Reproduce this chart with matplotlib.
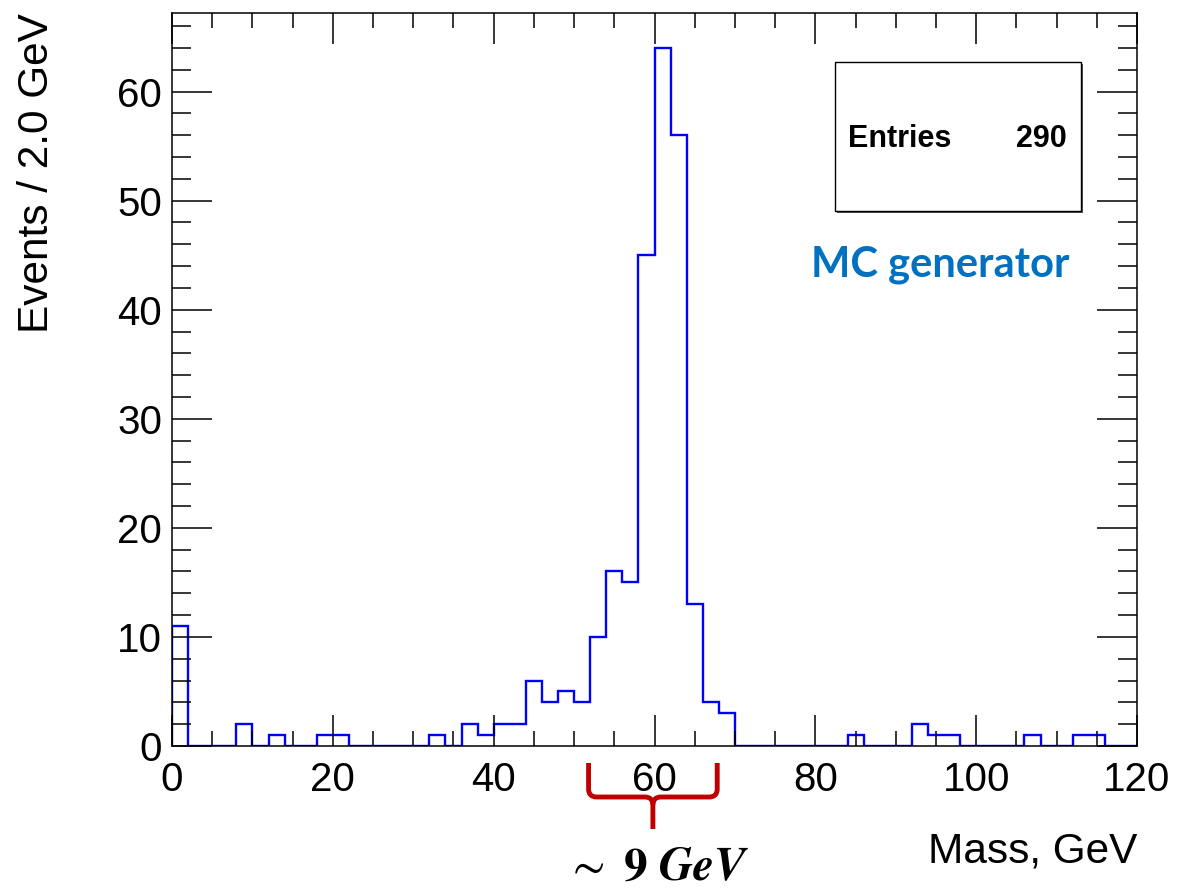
import numpy as np
import matplotlib
matplotlib.use("Agg")
import matplotlib.pyplot as plt
from matplotlib.path import Path
from matplotlib.patches import PathPatch, Rectangle
from matplotlib.ticker import MultipleLocator
import matplotlib.transforms as mtransforms

# Histogram of reconstructed mass, 2 GeV bins from 0 to 120 GeV
bin_edges = np.arange(0, 122, 2)
counts = [11, 0, 0, 0, 2, 0, 1, 0, 0, 1,
          1, 0, 0, 0, 0, 0, 1, 0, 2, 1,
          2, 2, 6, 4, 5, 4, 10, 16, 15, 45,
          64, 56, 13, 4, 3, 0, 0, 0, 0, 0,
          0, 0, 1, 0, 0, 0, 2, 1, 1, 0,
          0, 0, 0, 1, 0, 0, 1, 1, 0, 0]
n_entries = 290
x_label = "Mass, GeV"
y_label = "Events / 2.0 GeV"
generator_label = "MC generator"
width_label = r"$\sim\ \mathbf{9}\ \mathbfit{GeV}$"
width_range = (51.8, 67.8)

plt.rcParams['font.family'] = ['Liberation Sans', 'DejaVu Sans']
plt.rcParams['mathtext.fontset'] = 'stix'

W, H = 1181, 893
fig = plt.figure(figsize=(W / 100, H / 100), dpi=100)
ax = fig.add_axes([172/W, 1-746/H, (1137-172)/W, (746-13)/H])

ax.stairs(counts, bin_edges, color='#0000ff', linewidth=1.7)

ax.set_xlim(0, 120)
ax.set_ylim(0, 67.2)
ax.xaxis.set_major_locator(MultipleLocator(20))
ax.xaxis.set_minor_locator(MultipleLocator(5))
ax.yaxis.set_major_locator(MultipleLocator(10))
ax.yaxis.set_minor_locator(MultipleLocator(2))
ax.tick_params(which='both', direction='in', top=True, right=True, width=1.1, color='black')
ax.tick_params(which='major', length=22)
ax.tick_params(which='minor', length=11)
ax.tick_params(axis='y', which='major', length=29, labelsize=29, pad=7)
ax.tick_params(axis='y', which='minor', length=14)
ax.tick_params(axis='x', which='major', labelsize=29, pad=11)
for s in ax.spines.values():
    s.set_linewidth(1.1)

# Axis titles placed ROOT-style at the far ends of the axes
fig.text(1137/W, 1-863/H, x_label, fontsize=30.5, ha='right', va='baseline')
fig.text(37/W, 1-13/H, y_label, fontsize=30.5, rotation=90, ha='center', va='top')

# Statistics box with drop shadow
box_x0, box_y0 = 835/W, 1-211/H
box_w, box_h = (1081-835)/W, (211-62)/H
fig.patches.append(Rectangle((box_x0 + 2/W, box_y0 - 2/H), box_w, box_h,
                             transform=fig.transFigure, facecolor='#555555',
                             edgecolor='none', zorder=5))
fig.patches.append(Rectangle((box_x0, box_y0), box_w, box_h,
                             transform=fig.transFigure, facecolor='white',
                             edgecolor='black', linewidth=1.0, zorder=6))
fig.text(848/W, 1-147/H, "Entries", fontsize=22, fontweight='bold',
         ha='left', va='baseline', zorder=7)
fig.text(1067/W, 1-147/H, f"{n_entries}", fontsize=22, fontweight='bold',
         ha='right', va='baseline', zorder=7)

fig.text(940/W, 1-277/H, generator_label, fontsize=30, fontweight='bold',
         family=['Lato', 'DejaVu Sans'], color='#0070c0', ha='center', va='baseline')

# Brace marking the peak width below the x axis
trans = mtransforms.blended_transform_factory(ax.transData, fig.transFigure)
x0, x1 = width_range
xm = 0.5 * (x0 + x1)
ytop = 1 - 763/H
ybar = 1 - 797/H
ystem = 1 - 829/H
r = 1.0
dy = 8/H
verts = [(x0, ytop), (x0, ybar + dy), (x0, ybar), (x0 + r, ybar),
         (xm - r, ybar), (xm, ybar), (xm, ybar - dy), (xm, ystem)]
codes = [Path.MOVETO, Path.LINETO, Path.CURVE3, Path.CURVE3,
         Path.LINETO, Path.CURVE3, Path.CURVE3, Path.LINETO]
verts2 = [(x1, ytop), (x1, ybar + dy), (x1, ybar), (x1 - r, ybar),
          (xm + r, ybar), (xm, ybar), (xm, ybar - dy)]
codes2 = [Path.MOVETO, Path.LINETO, Path.CURVE3, Path.CURVE3,
          Path.LINETO, Path.CURVE3, Path.CURVE3]
for v, c in ((verts, codes), (verts2, codes2)):
    fig.patches.append(PathPatch(Path(v, c), transform=trans, facecolor='none',
                                 edgecolor='#c00000', linewidth=3.5,
                                 capstyle='butt', joinstyle='round'))

fig.text(657.5/W, 1-880/H, width_label, fontsize=34,
         ha='center', va='baseline', color='black')

fig.savefig("out.png", dpi=100)
